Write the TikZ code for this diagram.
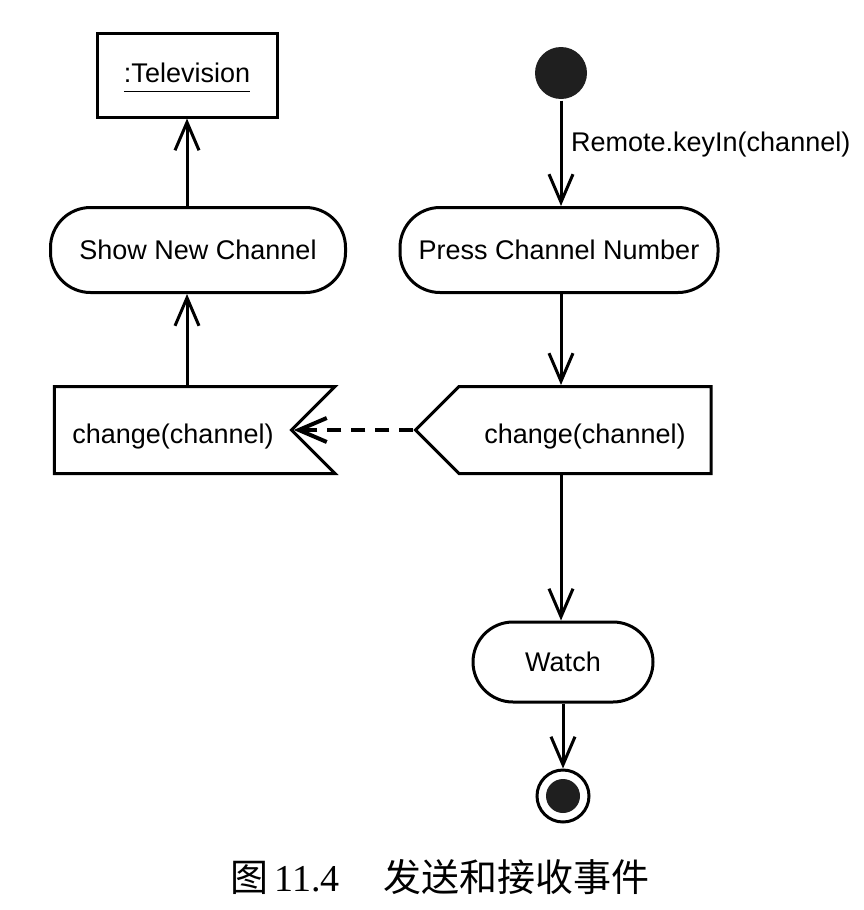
\documentclass[tikz,border=0pt]{standalone}
\usepackage{fontspec}
\setmainfont{Liberation Sans}
\newfontfamily\cjk{Noto Sans CJK SC}
\newfontfamily\chiffres{Liberation Serif}
\usetikzlibrary{arrows.meta,shapes.symbols}

\begin{document}
\begin{tikzpicture}[x=0.5pt, y=-0.5pt, line width=1.5pt,
  every node/.style={font=\fontsize{13.5pt}{16pt}\selectfont},
  fleche/.style={-{Straight Barb[length=14pt,width=12pt]}},
  objet/.style={draw, minimum width=90pt, minimum height=42pt},
  action/.style={draw, rounded corners=20pt, minimum height=42.5pt},
  recu/.style={draw, signal, signal to=nowhere, signal from=east, text height=16pt,
    signal pointer angle=90, minimum height=43.5pt, inner xsep=9pt},
  envoi/.style={draw, signal, signal to=west, text height=16pt,
    signal pointer angle=90, minimum height=43.5pt, inner xsep=12.75pt},
  debut/.style={circle, fill=black!88, minimum size=26pt, inner sep=0pt},
  fin/.style={circle, draw, minimum size=26pt, inner sep=0pt,
    path picture={\fill[black!88] (path picture bounding box.center) circle (8.5pt);}}]
  \useasboundingbox (0,0) rectangle (863,910);

  % Colonne de gauche : le televiseur
  \node[objet] (tele) at (187,75) {\rule{0pt}{12.7pt}\underline{:Television\rule[-3pt]{0pt}{0pt}}};
  \node[action, minimum width=147.5pt] (montrer) at (198,250) {Show New Channel};
  \node[recu] (recoit) at (173,430) {change(channel)};

  % Colonne de droite : la telecommande
  \node[debut] (depart) at (561,73) {};
  \node[action, minimum width=159pt] (presser) at (559,250) {Press Channel Number};
  \node[envoi] (envoie) at (585,430) {change(channel)};
  \node[action, minimum width=90pt, minimum height=40pt] (regarder) at (563,662) {Watch};
  \node[fin] (arret) at (563,796) {};

  % Les transitions
  \draw[fleche] (recoit.north -| tele.south) -- (montrer.south -| tele.south);
  \draw[fleche] (montrer.north -| tele.south) -- (tele.south);
  \draw[fleche] (depart) -- node[right, pos=0.42, xshift=1pt] (cle) {Remote.keyIn(channel)} (presser.north -| depart);
  \draw[fleche] (presser.south -| depart) -- (envoie.north -| depart);
  \draw[fleche] (envoie.south -| depart) -- (regarder.north -| depart);
  \draw[fleche] (regarder) -- (arret);

  % Le signal envoye
  \draw[fleche, line width=2pt, dash pattern=on 7pt off 5pt] (envoie.west) -- (recoit.east);

  % La legende
  \node[font=\fontsize{19pt}{22pt}\selectfont] (legende) at (440,877)
    {{\cjk 图}\,{\chiffres 11.4}\hspace{22pt}{\cjk 发送和接收事件}};
\end{tikzpicture}
\end{document}
